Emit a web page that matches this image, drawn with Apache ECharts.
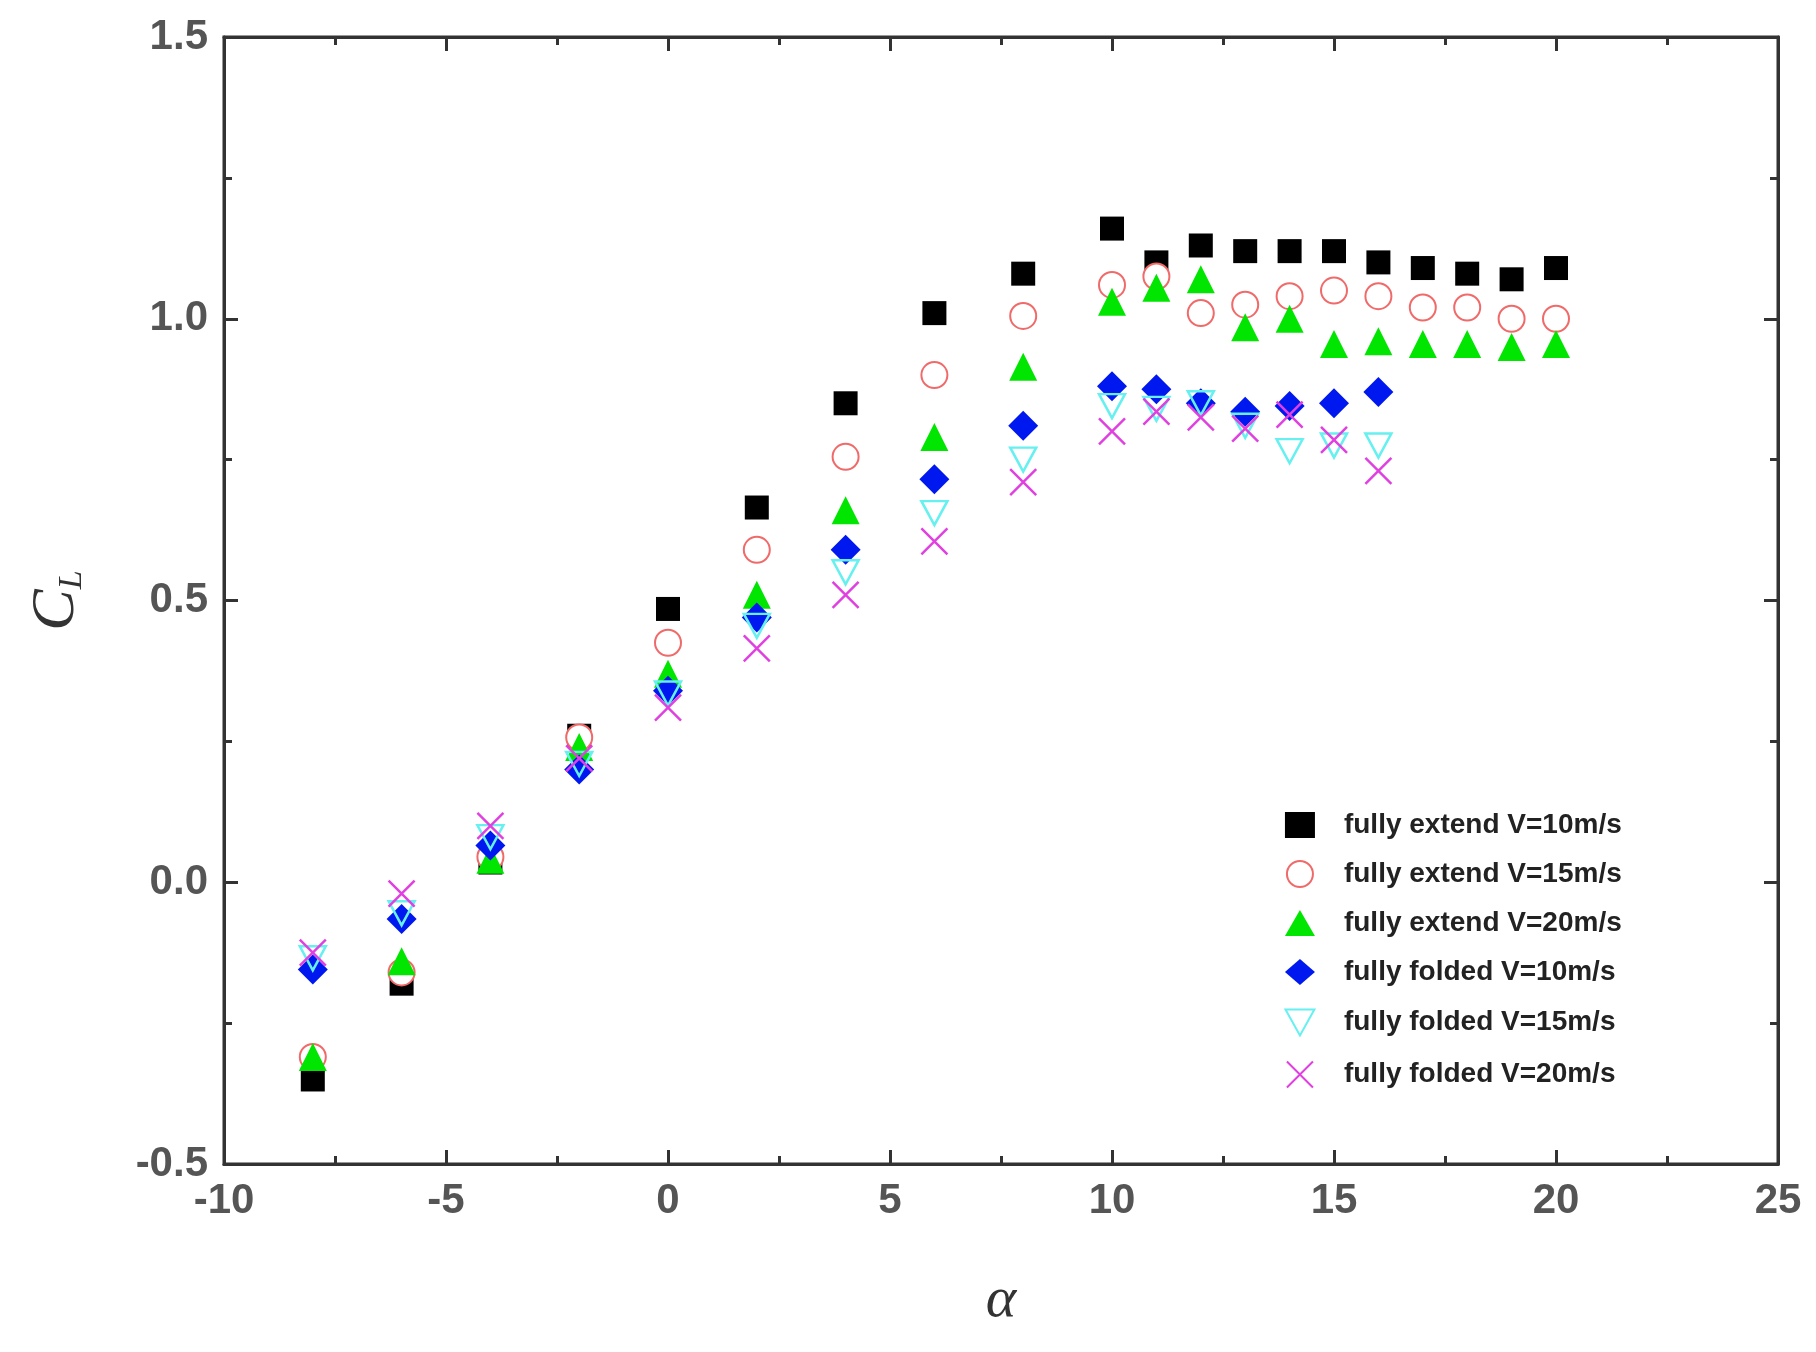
<!DOCTYPE html>
<html><head><meta charset="utf-8">
<script src="https://cdn.jsdelivr.net/npm/echarts@6/dist/echarts.min.js"></script>
<style>html,body{margin:0;padding:0;background:#fff}#c{width:1816px;height:1352px}</style>
</head><body><div id="c"></div>
<script>
const alphaFull = [-8,-6,-4,-2,0,2,4,6,8,10,11,12,13,14,15,16,17,18,19,20];
const alphaFold = [-8,-6,-4,-2,0,2,4,6,8,10,11,12,13,14,15,16];
const ext10 = [-0.35,-0.18,0.035,0.26,0.485,0.665,0.85,1.01,1.08,1.16,1.10,1.13,1.12,1.12,1.12,1.10,1.09,1.08,1.07,1.09];
const ext15 = [-0.31,-0.16,0.045,0.257,0.425,0.59,0.755,0.90,1.005,1.06,1.075,1.01,1.025,1.04,1.05,1.04,1.02,1.02,1.0,1.0];
const ext20 = [-0.31,-0.14,0.04,0.24,0.37,0.51,0.66,0.79,0.915,1.03,1.055,1.07,0.985,1.0,0.955,0.96,0.955,0.955,0.95,0.955];
const fold10 = [-0.155,-0.065,0.065,0.20,0.34,0.47,0.59,0.715,0.81,0.88,0.875,0.85,0.835,0.845,0.85,0.87];
const fold15 = [-0.135,-0.055,0.08,0.21,0.335,0.455,0.55,0.655,0.75,0.845,0.84,0.85,0.81,0.765,0.775,0.775];
const fold20 = [-0.125,-0.02,0.10,0.22,0.31,0.415,0.51,0.605,0.71,0.80,0.835,0.825,0.805,0.83,0.785,0.73];
const names = ['fully extend V=10m/s','fully extend V=15m/s','fully extend V=20m/s','fully folded V=10m/s','fully folded V=15m/s','fully folded V=20m/s'];

const zip = (xs, ys) => xs.map((x,i)=>[x, ys[i]]);
const defs = [
  {d: zip(alphaFull, ext10), symbol:'rect', size:24, style:{color:'#000'}},
  {d: zip(alphaFull, ext15), symbol:'emptyCircle', size:26, style:{color:'#f06a6a', borderColor:'#f06a6a', borderWidth:2.5}},
  {d: zip(alphaFull, ext20), symbol:'triangle', size:28, style:{color:'#00e600'}},
  {d: zip(alphaFold, fold10), symbol:'diamond', size:30, style:{color:'#0018f0'}},
  {d: zip(alphaFold, fold15), symbol:'path://M0,0L10,0L5,9Z', size:[26,24], style:{color:'none', borderColor:'#66f0f0', borderWidth:2.5}},
  {d: zip(alphaFold, fold20), symbol:'path://M0,0L10,10M10,0L0,10', size:26, style:{color:'none', borderColor:'#e040e0', borderWidth:2.5}}
];
const chart = echarts.init(document.getElementById('c'));
const label = {color:'#555', fontSize:42, fontWeight:'bold', fontFamily:'Liberation Sans', margin:16};
function ax(extra, show){
  return Object.assign({
    axisLine:{onZero:false, lineStyle:{color:'#333', width:3}},
    axisTick:{inside:true, length:14, lineStyle:{color:'#333', width:3}},
    minorTick:{show:true, splitNumber:2, length:8, lineStyle:{color:'#333', width:3}},
    splitLine:{show:false}, minorSplitLine:{show:false},
    axisLabel:show ? label : {show:false}
  }, extra);
}
chart.setOption({
  animation:false,
  grid:{left:224, right:38, top:37, bottom:188, show:true, borderColor:'#333', borderWidth:3},
  xAxis:[
    ax({type:'value', min:-10, max:25, interval:5, name:'α', nameLocation:'middle', nameGap:108,
      nameTextStyle:{fontSize:58, fontStyle:'italic', fontFamily:'Liberation Serif', color:'#333'}}, true),
    ax({type:'value', position:'top', min:-10, max:25, interval:5}, false)
  ],
  yAxis:[
    ax({type:'value', min:-0.5, max:1.5, interval:0.5, name:'{a|C}{b|L}', nameLocation:'middle', nameGap:135, nameRotate:90,
      nameTextStyle:{rich:{a:{fontSize:62, fontStyle:'italic', fontFamily:'Liberation Serif', color:'#333'},
        b:{fontSize:34, fontStyle:'italic', fontFamily:'Liberation Serif', color:'#333', verticalAlign:'bottom', padding:[30,0,0,0]}}},
      axisLabel:Object.assign({}, label, {formatter:v=>v.toFixed(1)})}, true),
    ax({type:'value', position:'right', min:-0.5, max:1.5, interval:0.5}, false)
  ],
  legend:{orient:'vertical', left:1278, top:806, itemGap:21, itemWidth:30, itemHeight:26,
    textStyle:{fontSize:28, fontWeight:'bold', color:'#222', fontFamily:'Liberation Sans', padding:[0,0,0,24]},
    data:names},
  series: defs.map((s,i)=>({type:'scatter', name:names[i], data:s.d, symbol:s.symbol, symbolSize:s.size,
    itemStyle:Object.assign({opacity:1}, s.style)}))
});
</script></body></html>
